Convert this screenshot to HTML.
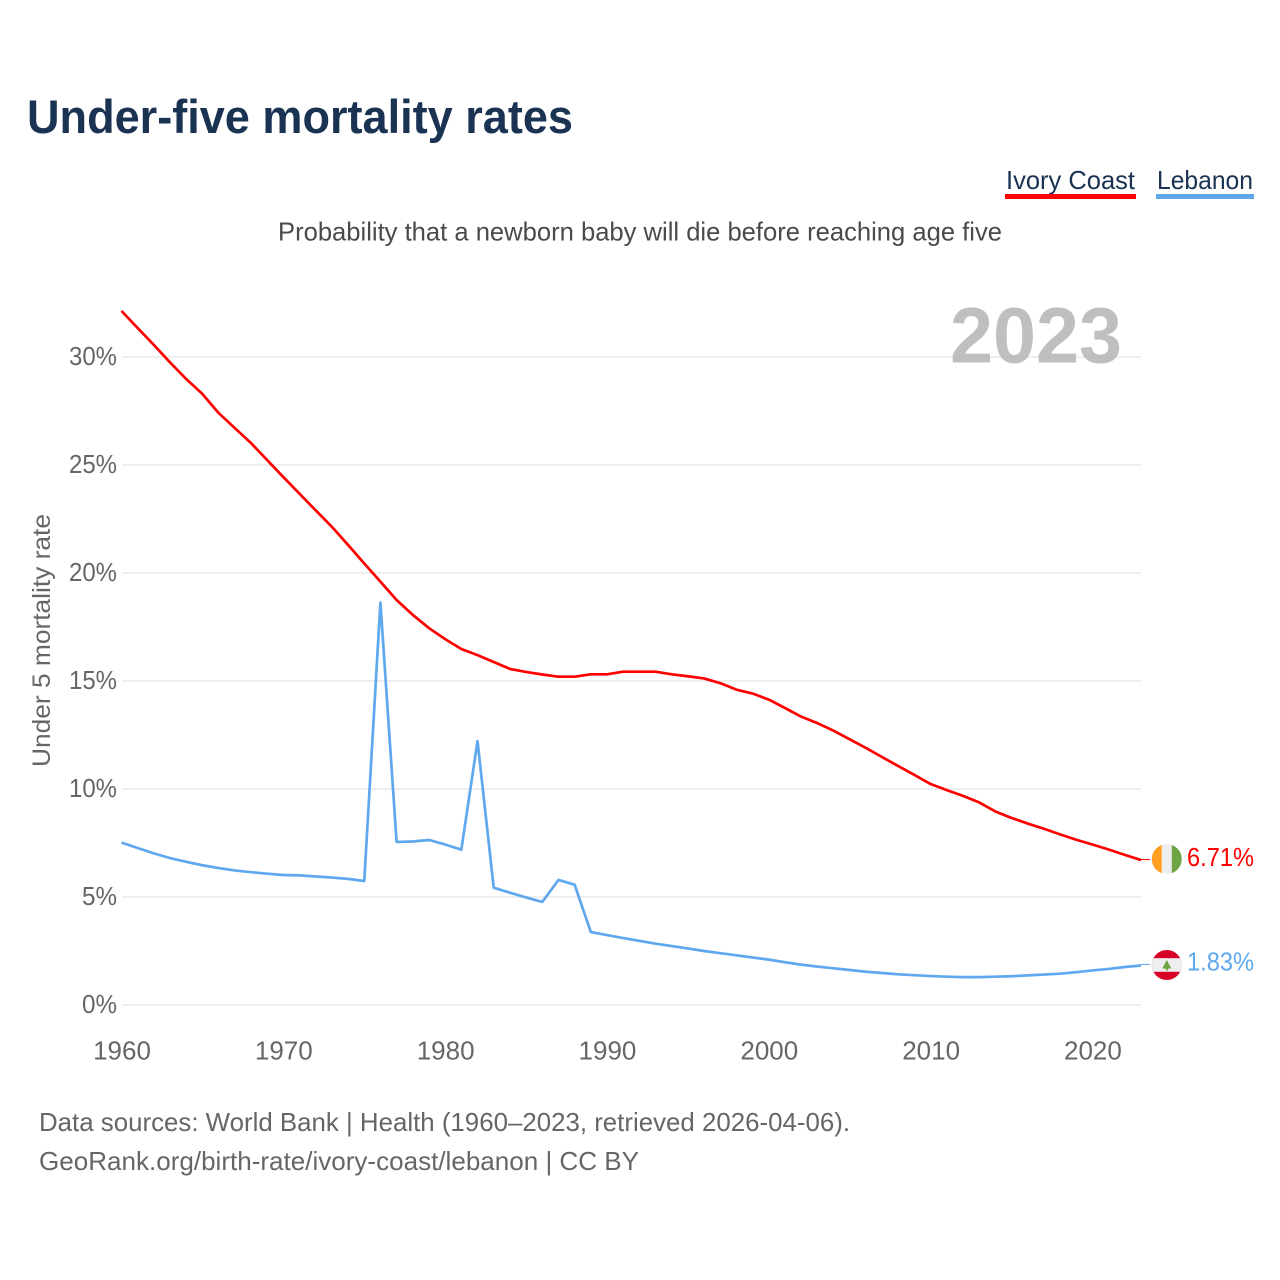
<!DOCTYPE html>
<html lang="en">
<head>
<meta charset="utf-8">
<title>Under-five mortality rates</title>
<style>
  html, body { margin: 0; padding: 0; background: #fff; }
  svg { display: block; font-family: "Liberation Sans", sans-serif; }
</style>
</head>
<body>
<svg id="chart" xmlns="http://www.w3.org/2000/svg" width="1280" height="1280" viewBox="0 0 1280 1280">
  <rect x="0" y="0" width="1280" height="1280" fill="#fff"/>
  <text x="27" y="133" font-size="47" font-weight="700" fill="#1a3352" textLength="546" lengthAdjust="spacingAndGlyphs">Under-five mortality rates</text>

  <g>
    <text x="1006" y="189" font-size="26" fill="#1a3352" textLength="129" lengthAdjust="spacingAndGlyphs">Ivory Coast</text>
    <rect x="1005" y="194" width="131" height="5" fill="#ff0000"/>
  </g>
  <g>
    <text x="1157" y="189" font-size="26" fill="#1a3352" textLength="96" lengthAdjust="spacingAndGlyphs">Lebanon</text>
    <rect x="1156" y="194" width="98" height="5" fill="#5fa8ee"/>
  </g>

  <text x="278" y="240.5" font-size="26" fill="#4a4a4a" textLength="724" lengthAdjust="spacingAndGlyphs">Probability that a newborn baby will die before reaching age five</text>
  <text transform="translate(50,767) rotate(-90)" x="0" y="0" font-size="25" fill="#666" textLength="253" lengthAdjust="spacingAndGlyphs">Under 5 mortality rate</text>

  <g id="grid"></g>
  <text x="950" y="362.5" font-size="79" font-weight="700" fill="#b4b4b4" fill-opacity="0.85" textLength="172" lengthAdjust="spacingAndGlyphs">2023</text>
  <g id="yticks"></g>
  <g id="xticks"></g>
  <g id="series"></g>
  <g id="ends"></g>

  <text x="39" y="1131" font-size="26" fill="#666" textLength="811" lengthAdjust="spacingAndGlyphs">Data sources: World Bank | Health (1960–2023, retrieved 2026-04-06).</text>
  <text x="39" y="1170" font-size="26" fill="#666" textLength="600" lengthAdjust="spacingAndGlyphs">GeoRank.org/birth-rate/ivory-coast/lebanon | CC BY</text>
</svg>
<script>
const years = [1960,1961,1962,1963,1964,1965,1966,1967,1968,1969,1970,1971,1972,1973,1974,1975,1976,1977,1978,1979,1980,1981,1982,1983,1984,1985,1986,1987,1988,1989,1990,1991,1992,1993,1994,1995,1996,1997,1998,1999,2000,2001,2002,2003,2004,2005,2006,2007,2008,2009,2010,2011,2012,2013,2014,2015,2016,2017,2018,2019,2020,2021,2022,2023];
const ivoryCoast = [32.13,31.34,30.56,29.75,28.98,28.29,27.41,26.71,26.02,25.23,24.44,23.67,22.9,22.14,21.3,20.44,19.6,18.75,18.06,17.45,16.94,16.48,16.2,15.88,15.56,15.42,15.3,15.2,15.2,15.31,15.31,15.43,15.43,15.43,15.31,15.22,15.12,14.9,14.6,14.42,14.14,13.75,13.35,13.05,12.7,12.3,11.9,11.48,11.06,10.65,10.23,9.95,9.68,9.38,8.96,8.66,8.4,8.16,7.9,7.65,7.43,7.2,6.95,6.71];
const lebanon = [7.52,7.27,7.02,6.8,6.63,6.47,6.34,6.23,6.15,6.08,6.02,6.0,5.95,5.9,5.84,5.74,18.63,7.55,7.57,7.64,7.43,7.19,12.22,5.43,5.2,4.98,4.77,5.79,5.57,3.38,3.24,3.1,2.97,2.84,2.73,2.62,2.5,2.4,2.3,2.2,2.1,1.98,1.87,1.78,1.7,1.62,1.54,1.48,1.42,1.38,1.34,1.31,1.29,1.29,1.31,1.33,1.37,1.41,1.45,1.52,1.6,1.67,1.76,1.83];
const yTickValues = [0,5,10,15,20,25,30];
const xTickValues = [1960,1970,1980,1990,2000,2010,2020];

const NS = 'http://www.w3.org/2000/svg';
function xScale(year) { return 121.5 + (year - 1960) * (1141 - 121.5) / 63; }
function yScale(pct) { return 1005 - pct * 21.6; }
function make(tag, attrs, parent, text) {
  const el = document.createElementNS(NS, tag);
  for (const k in attrs) el.setAttribute(k, attrs[k]);
  if (text !== undefined) el.textContent = text;
  parent.appendChild(el);
  return el;
}

const gridG = document.getElementById('grid');
const yG = document.getElementById('yticks');
yTickValues.forEach(function (v) {
  const line = make('line', {x1: 122, x2: 1141, y1: yScale(v), y2: yScale(v), stroke: '#eeeeee', 'stroke-width': 2}, gridG);
  
  
  const label = make('text', {x: 117, y: yScale(v) + 8, 'text-anchor': 'end', 'font-size': 26, fill: '#666', textLength: 13 * String(v).length + 22, lengthAdjust: 'spacingAndGlyphs'}, yG, v + '%');
  
  
});

const xG = document.getElementById('xticks');
xTickValues.forEach(function (v) {
  const label = make('text', {x: xScale(v) + 0.5, y: 1059.5, 'text-anchor': 'middle', 'font-size': 26, fill: '#666'}, xG, String(v));
  
  
});

function linePath(values) {
  return values.map(function (v, i) {
    return (i ? 'L' : 'M') + xScale(years[i]).toFixed(2) + ' ' + yScale(v).toFixed(2);
  }).join(' ');
}
const seriesG = document.getElementById('series');
const redLine = make('path', {d: linePath(ivoryCoast), fill: 'none', stroke: '#ff0000', 'stroke-width': 2.7, 'stroke-linejoin': 'round'}, seriesG);


const blueLine = make('path', {d: linePath(lebanon), fill: 'none', stroke: '#5fa8ee', 'stroke-width': 2.7, 'stroke-linejoin': 'round'}, seriesG);



const endsG = document.getElementById('ends');
const endX = xScale(years[years.length - 1]);
const FLAG_X = 1166.8;
const FLAG_R = 15;

function addClip(id, cy) {
  const clip = make('clipPath', {id: id}, endsG);
  make('circle', {cx: FLAG_X, cy: cy, r: FLAG_R}, clip);
}

// Ivory Coast end marker
const redY = yScale(ivoryCoast[ivoryCoast.length - 1]);
const redLead = make('line', {x1: endX, x2: 1150, y1: redY - 0.5, y2: redY - 0.5, stroke: '#ff0000', 'stroke-width': 1}, endsG);


const ciCy = redY - 1;
addClip('clip-ci', ciCy);
const flagCI = make('g', {'clip-path': 'url(#clip-ci)'}, endsG);


make('rect', {x: FLAG_X - FLAG_R, y: ciCy - FLAG_R, width: 10, height: 30, fill: '#ff9e1f'}, flagCI);
make('rect', {x: FLAG_X - 5, y: ciCy - FLAG_R, width: 10, height: 30, fill: '#eeeeee'}, flagCI);
make('rect', {x: FLAG_X + 5, y: ciCy - FLAG_R, width: 10, height: 30, fill: '#6da544'}, flagCI);
const redLabel = make('text', {x: 1254, y: redY + 6, 'text-anchor': 'end', 'font-size': 26, fill: '#ff0000', textLength: 67, lengthAdjust: 'spacingAndGlyphs'}, endsG, ivoryCoast[ivoryCoast.length - 1].toFixed(2) + '%');



// Lebanon end marker
const blueY = yScale(lebanon[lebanon.length - 1]);
const blueLead = make('line', {x1: endX, x2: 1150, y1: blueY - 1, y2: blueY - 1, stroke: '#5fa8ee', 'stroke-width': 1}, endsG);


const lbCy = blueY - 0.5;
addClip('clip-lb', lbCy);
const flagLB = make('g', {'clip-path': 'url(#clip-lb)'}, endsG);


make('rect', {x: FLAG_X - FLAG_R, y: lbCy - FLAG_R, width: 30, height: 30, fill: '#d80027'}, flagLB);
make('rect', {x: FLAG_X - FLAG_R, y: lbCy - 6.8, width: 30, height: 13.6, fill: '#eeeeee'}, flagLB);
make('path', {d: 'M' + FLAG_X + ' ' + (lbCy - 5) + ' l4.5 8.5 h-3.5 v2 h-2 v-2 h-3.5 z', fill: '#6da544'}, flagLB);
const blueLabel = make('text', {x: 1254, y: blueY + 5, 'text-anchor': 'end', 'font-size': 26, fill: '#5fa8ee', textLength: 67, lengthAdjust: 'spacingAndGlyphs'}, endsG, lebanon[lebanon.length - 1].toFixed(2) + '%');


</script>
</body>
</html>
